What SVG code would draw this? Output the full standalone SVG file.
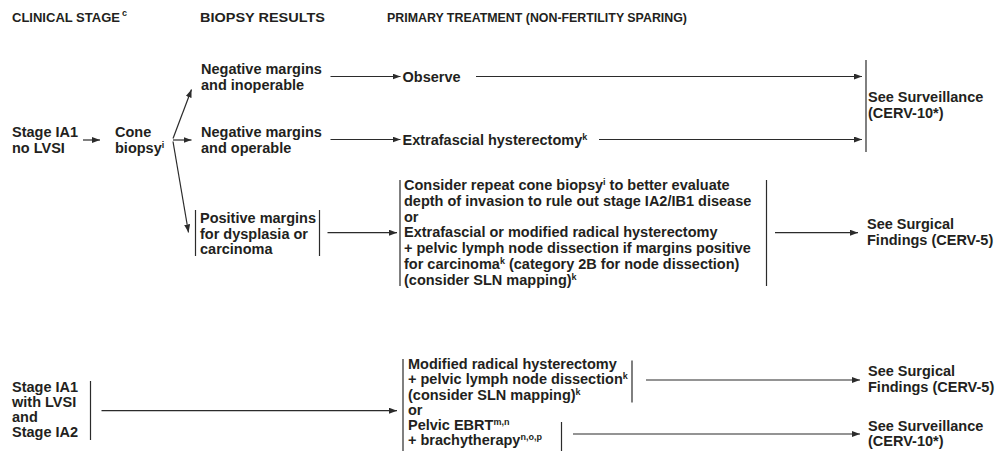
<svg xmlns="http://www.w3.org/2000/svg" width="995" height="454" viewBox="0 0 995 454">
<style>
.t{font-family:"Liberation Sans",Arial,Helvetica,sans-serif;font-weight:bold;font-size:14.5px;fill:#231f20}
.h{font-family:"Liberation Sans",Arial,Helvetica,sans-serif;font-weight:bold;font-size:12.5px;fill:#231f20}
.s{font-size:9px}
.hs{font-family:"Liberation Sans",Arial,Helvetica,sans-serif;font-weight:bold;font-size:9px;fill:#231f20}
.bar{stroke:#2b2b2b;stroke-width:1.2;fill:none}
.ar{stroke:#2b2b2b;stroke-width:1.2;fill:none;marker-end:url(#ah)}
</style>
<defs>
<marker id="ah" markerWidth="8" markerHeight="6" refX="8" refY="3" orient="auto" markerUnits="userSpaceOnUse">
<path d="M0,0 L8,3 L0,6 z" fill="#2b2b2b"/>
</marker>
</defs>
<rect width="995" height="454" fill="#ffffff"/>

<g id="headers">
<text class="h" x="12" y="22" textLength="108" lengthAdjust="spacingAndGlyphs">CLINICAL STAGE</text>
<text class="hs" x="122" y="16">c</text>
<text class="h" x="200" y="22" textLength="125" lengthAdjust="spacingAndGlyphs">BIOPSY RESULTS</text>
<text class="h" x="387" y="22" textLength="300" lengthAdjust="spacingAndGlyphs">PRIMARY TREATMENT (NON-FERTILITY SPARING)</text>
</g>

<g id="stage-ia1-no-lvsi">
<text class="t" x="12" y="137">Stage IA1</text>
<text class="t" x="12" y="153">no LVSI</text>
</g>

<g id="cone-biopsy">
<text class="t" x="115" y="137">Cone</text>
<text class="t" x="115" y="153">biopsy<tspan class="s" dy="-5">i</tspan></text>
</g>

<g id="neg-inoperable">
<text class="t" x="201" y="74">Negative margins</text>
<text class="t" x="201" y="90">and inoperable</text>
</g>

<g id="neg-operable">
<text class="t" x="201" y="137">Negative margins</text>
<text class="t" x="201" y="153">and operable</text>
</g>

<g id="positive-margins">
<line class="bar" x1="195.5" y1="210" x2="195.5" y2="256"/>
<line class="bar" x1="319.5" y1="210" x2="319.5" y2="256"/>
<text class="t" x="200" y="223">Positive margins</text>
<text class="t" x="200" y="238.5">for dysplasia or</text>
<text class="t" x="200" y="254">carcinoma</text>
</g>

<g id="observe">
<text class="t" x="402.5" y="81.7">Observe</text>
</g>

<g id="extrafascial">
<text class="t" x="402.5" y="144.5">Extrafascial hysterectomy<tspan class="s" dy="-5">k</tspan></text>
</g>

<g id="consider-repeat">
<line class="bar" x1="400" y1="180" x2="400" y2="286"/>
<line class="bar" x1="766.5" y1="180" x2="766.5" y2="286"/>
<text class="t" x="404" y="190">Consider repeat cone biopsy<tspan class="s" dy="-5">i</tspan><tspan dy="5"> to better evaluate</tspan></text>
<text class="t" x="404" y="205.8">depth of invasion to rule out stage IA2/IB1 disease</text>
<text class="t" x="404" y="221.6">or</text>
<text class="t" x="404" y="237.4">Extrafascial or modified radical hysterectomy</text>
<text class="t" x="404" y="253.2">+ pelvic lymph node dissection if margins positive</text>
<text class="t" x="404" y="269">for carcinoma<tspan class="s" dy="-5">k</tspan><tspan dy="5"> (category 2B for node dissection)</tspan></text>
<text class="t" x="404" y="284.8">(consider SLN mapping)<tspan class="s" dy="-5">k</tspan></text>
</g>

<g id="see-surveillance-1">
<line class="bar" x1="866" y1="60" x2="866" y2="152"/>
<text class="t" x="868" y="101.7">See Surveillance</text>
<text class="t" x="868" y="117.5">(CERV-10*)</text>
</g>

<g id="see-surgical-1">
<text class="t" x="867" y="229">See Surgical</text>
<text class="t" x="867" y="245">Findings (CERV-5)</text>
</g>

<g id="stage-ia1-lvsi-ia2">
<line class="bar" x1="90.5" y1="381" x2="90.5" y2="440"/>
<text class="t" x="12" y="392">Stage IA1</text>
<text class="t" x="12" y="407">with LVSI</text>
<text class="t" x="12" y="422">and</text>
<text class="t" x="12" y="437">Stage IA2</text>
</g>

<g id="modified-radical">
<line class="bar" x1="403" y1="359" x2="403" y2="451"/>
<line class="bar" x1="632" y1="360.5" x2="632" y2="402.5"/>
<line class="bar" x1="561.5" y1="422" x2="561.5" y2="451"/>
<text class="t" x="408" y="369">Modified radical hysterectomy</text>
<text class="t" x="408" y="384">+ pelvic lymph node dissection<tspan class="s" dy="-5">k</tspan></text>
<text class="t" x="408" y="399.5">(consider SLN mapping)<tspan class="s" dy="-5">k</tspan></text>
<text class="t" x="408" y="415">or</text>
<text class="t" x="408" y="430">Pelvic EBRT<tspan class="s" dy="-5">m,n</tspan></text>
<text class="t" x="408" y="445">+ brachytherapy<tspan class="s" dy="-5">n,o,p</tspan></text>
</g>

<g id="see-surgical-2">
<text class="t" x="868" y="375.7">See Surgical</text>
<text class="t" x="868" y="391.7">Findings (CERV-5)</text>
</g>

<g id="see-surveillance-2">
<text class="t" x="868" y="430.7">See Surveillance</text>
<text class="t" x="868" y="446.3">(CERV-10*)</text>
</g>

<g id="connectors">
<line class="ar" x1="83" y1="140" x2="100" y2="140"/>
<line class="ar" x1="173" y1="138.5" x2="191.5" y2="89.5"/>
<line class="ar" x1="173" y1="140" x2="191.5" y2="140"/>
<line class="ar" x1="173" y1="141.5" x2="188.5" y2="232.5"/>
<line class="ar" x1="330.5" y1="76.5" x2="400.5" y2="76.5"/>
<line class="ar" x1="476" y1="76.5" x2="862" y2="76.5"/>
<line class="ar" x1="330.5" y1="139.5" x2="400.5" y2="139.5"/>
<line class="ar" x1="599" y1="139.5" x2="862" y2="139.5"/>
<line class="ar" x1="327.5" y1="232.7" x2="397" y2="232.7"/>
<line class="ar" x1="775" y1="232.7" x2="858" y2="232.7"/>
<line class="ar" x1="101.5" y1="410.7" x2="397" y2="410.7"/>
<line class="ar" x1="646" y1="380" x2="860" y2="380"/>
<line class="ar" x1="573" y1="434" x2="860" y2="434"/>
</g>
</svg>
